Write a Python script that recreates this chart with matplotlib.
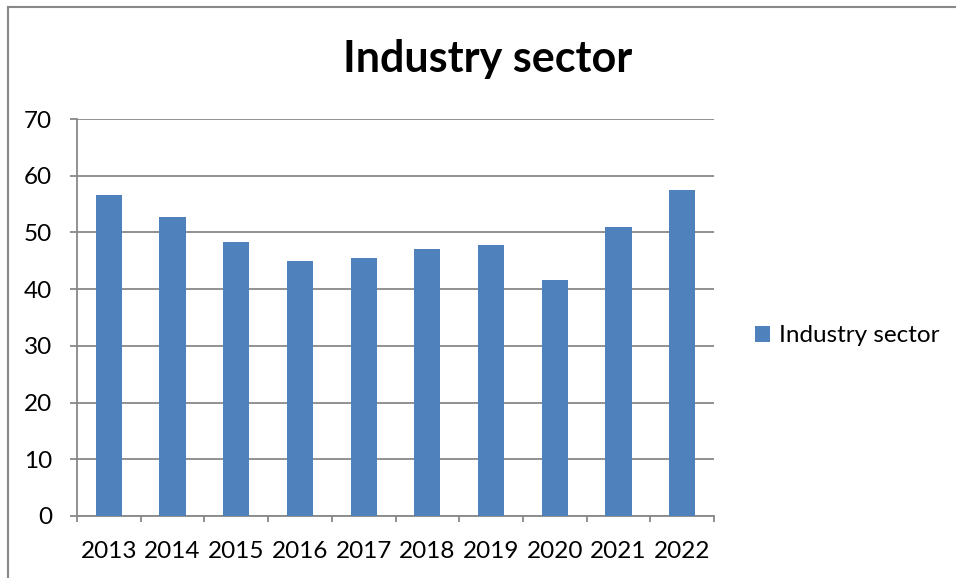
import matplotlib
matplotlib.use("Agg")
import matplotlib.pyplot as plt
from matplotlib.lines import Line2D
import numpy as np

years = ["2013", "2014", "2015", "2016", "2017", "2018", "2019", "2020", "2021", "2022"]
industry = [56.6, 52.7, 48.3, 45.0, 45.5, 47.1, 47.7, 41.6, 51.0, 57.5]
y_ticks = [0, 10, 20, 30, 40, 50, 60, 70]

plt.rcParams["font.family"] = ["Lato", "DejaVu Sans"]
GRID = "#888888"
BAR = "#4F81BD"

fig = plt.figure(figsize=(9.56, 5.78), dpi=100)
ax = fig.add_axes([77 / 956, 1 - 516 / 578, (714 - 77) / 956, (516 - 119) / 578])

x = np.arange(len(years))
ax.bar(x, industry, width=0.41, color=BAR, label="Industry sector", zorder=3)

ax.set_xlim(-0.5, len(years) - 0.5)
ax.set_ylim(0, 70)

# category boundaries carry the tick marks, centres carry the labels
ax.set_xticks(np.arange(-0.5, len(years), 1.0))
ax.set_xticklabels([])
ax.set_xticks(x, minor=True)
ax.set_xticklabels(years, minor=True, fontsize=17.5)
ax.tick_params(axis="x", which="major", length=4.5, width=1.3, color=GRID, direction="out")
ax.tick_params(axis="x", which="minor", length=0, pad=18)

ax.set_yticks(y_ticks)
ax.tick_params(axis="y", length=5, width=1.3, color=GRID, labelsize=17.5, pad=13)
ax.yaxis.grid(True, color=GRID, linewidth=1.3, zorder=0)
ax.set_axisbelow(True)

for side in ("top", "right"):
    ax.spines[side].set_visible(False)
for side in ("left", "bottom"):
    ax.spines[side].set_color(GRID)
    ax.spines[side].set_linewidth(1.3)

fig.text(488 / 956, 1 - 59 / 578, "Industry sector", ha="center", va="center",
         fontsize=31, fontweight="bold")

fig.legend(loc="center left", bbox_to_anchor=(755 / 956, 1 - 336 / 578), frameon=False,
           fontsize=17.5, handlelength=0.6, handleheight=0.6, handletextpad=0.4,
           borderaxespad=0, borderpad=0)

# outer chart frame (top and left edges)
fig.add_artist(Line2D([8 / 956, 1.0], [1 - 7 / 578, 1 - 7 / 578], color=GRID, linewidth=1.5,
                      transform=fig.transFigure))
fig.add_artist(Line2D([8 / 956, 8 / 956], [0.0, 1 - 7 / 578], color=GRID, linewidth=1.5,
                      transform=fig.transFigure))

fig.savefig("out.png", dpi=100)
